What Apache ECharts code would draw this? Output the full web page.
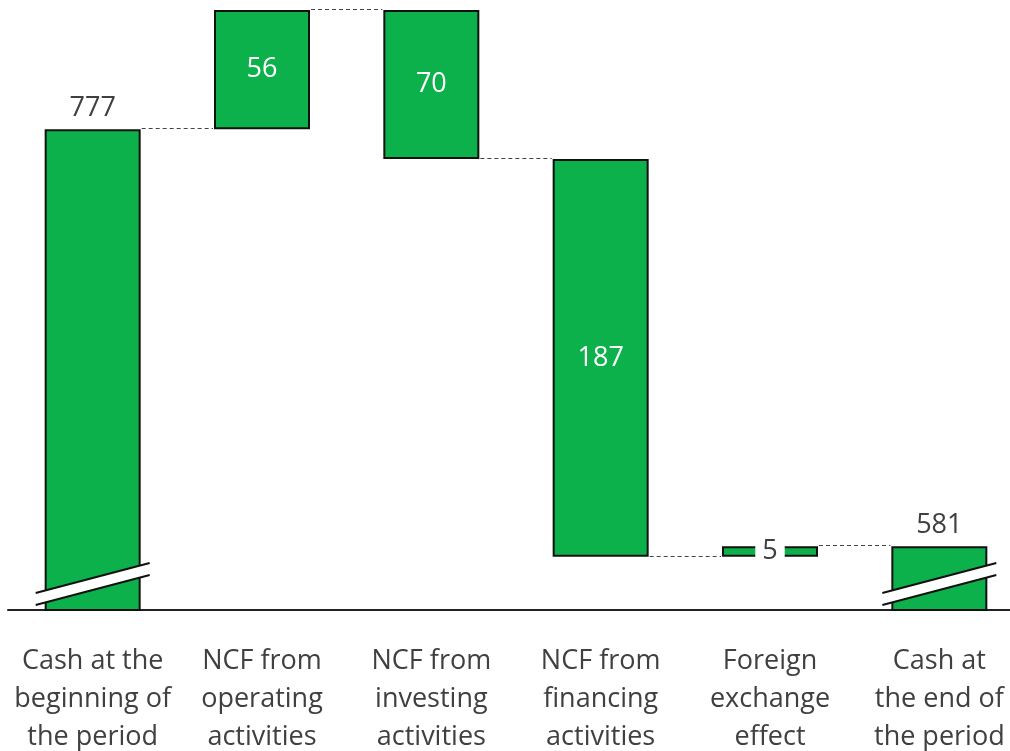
<!DOCTYPE html>
<html>
<head>
<meta charset="utf-8">
<script src="https://cdn.jsdelivr.net/npm/echarts@6/dist/echarts.min.js"></script>
<style>
  html, body { margin: 0; padding: 0; background: #fff; }
  #chart { width: 1010px; height: 751px; }
</style>
</head>
<body>
<div id="chart"></div>
<script>
// categories and values
const categories = [
  'Cash at the\nbeginning of\nthe period',
  'NCF from\noperating\nactivities',
  'NCF from\ninvesting\nactivities',
  'NCF from\nfinancing\nactivities',
  'Foreign\nexchange\neffect',
  'Cash at\nthe end of\nthe period'
]
const amounts = [777, 56, 70, 187, 5, 581]
// +1 = increase, -1 = decrease, 0 = total bar
const directions = [0, 1, -1, -1, 1, 0]
const axisMin = 551   // axis is broken below this
const axisMax = 833

const GREEN = '#0db14b'
const TEXT = '#404040'
const FONT = 'Open Sans'

// waterfall bases: invisible part of the stack
const baseData = []
const levels = []   // running total after each step, used for dashed connectors
let running = 0
amounts.forEach((v, i) => {
  if (directions[i] === 0) {
    baseData.push(0)
    running = v
  } else if (directions[i] > 0) {
    baseData.push(running)
    running += v
  } else {
    running -= v
    baseData.push(running)
  }
  levels.push(running)
})

const barData = amounts.map((v, i) => {
  const item = { value: v }
  if (directions[i] === 0) {
    item.label = { position: 'top', color: TEXT, distance: 7 }
  } else if (i === 4) {
    item.label = { position: 'inside', color: TEXT, backgroundColor: '#fff', padding: [0, 7], lineHeight: 30 }
  } else {
    item.label = { position: 'inside', color: '#fff' }
  }
  return item
})

const connectorData = levels.slice(0, -1).map((lv, i) => [i, lv])
const breakData = amounts.map((v, i) => [i, axisMin]).filter((d, i) => directions[i] === 0)

const chart = echarts.init(document.getElementById('chart'))
const barWidth = 96

chart.setOption({
  animation: false,
  grid: { left: 8, width: 1016, top: 10, bottom: 141, containLabel: false, outerBoundsMode: 'none' },
  xAxis: {
    type: 'category',
    data: categories,
    axisLine: { lineStyle: { color: '#222', width: 2 } },
    axisTick: { show: false },
    axisLabel: {
      interval: 0,
      margin: 32,
      color: TEXT,
      fontFamily: FONT,
      fontSize: 27,
      lineHeight: 38
    }
  },
  yAxis: {
    type: 'value',
    min: axisMin,
    max: axisMax,
    show: false,
    splitLine: { show: false }
  },
  series: [
    {
      name: 'base',
      type: 'bar',
      stack: 'wf',
      barWidth: barWidth,
      itemStyle: { color: 'transparent' },
      emphasis: { disabled: true },
      data: baseData
    },
    {
      name: 'amount',
      type: 'bar',
      stack: 'wf',
      barWidth: barWidth,
      clip: true,
      itemStyle: { color: GREEN, borderColor: '#111', borderWidth: 2 },
      label: { show: true, fontFamily: FONT, fontSize: 27 },
      data: barData
    },
    {
      name: 'connectors',
      type: 'custom',
      z: 1,
      data: connectorData,
      renderItem: (params, api) => {
        const p = api.coord([api.value(0), api.value(1)])
        const band = api.size([1, 0])[0]
        const y = Math.round(p[1]) - 0.5
        return {
          type: 'line',
          shape: { x1: p[0] + barWidth / 2 + 1, y1: y, x2: p[0] + band - barWidth / 2 - 1, y2: y },
          style: { stroke: '#444', lineWidth: 1, lineDash: [4, 3] }
        }
      }
    },
    {
      name: 'breaks',
      type: 'custom',
      z: 5,
      clip: false,
      data: breakData,
      renderItem: (params, api) => {
        const p = api.coord([api.value(0), api.value(1)])
        const x1 = p[0] - 57, x2 = p[0] + 57
        const yb = p[1]
        return {
          type: 'group',
          children: [
            {
              type: 'polygon',
              shape: { points: [[x1, yb - 17], [x2, yb - 47], [x2, yb - 35], [x1, yb - 5]] },
              style: { fill: '#fff' }
            },
            {
              type: 'line',
              shape: { x1: x1, y1: yb - 17, x2: x2, y2: yb - 47 },
              style: { stroke: '#111', lineWidth: 2 }
            },
            {
              type: 'line',
              shape: { x1: x1, y1: yb - 5, x2: x2, y2: yb - 35 },
              style: { stroke: '#111', lineWidth: 2 }
            }
          ]
        }
      }
    }
  ]
})
</script>
</body>
</html>
